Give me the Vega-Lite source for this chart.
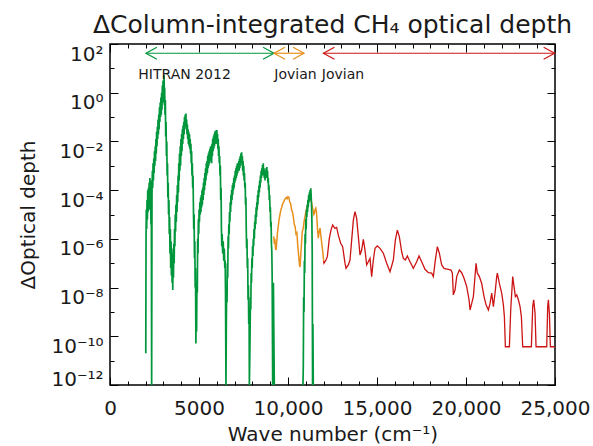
{
"$schema": "https://vega.github.io/schema/vega-lite/v6.json",
"width": 445, "height": 341,
"autosize": "none",
"padding": {"left": 110, "top": 44, "right": 38, "bottom": 61},
"background": "white",
"title": {"text": "ΔColumn-integrated CH₄ optical depth", "fontSize": 25, "font": "DejaVu Sans", "fontWeight": "normal", "color": "#1a1a1a", "offset": 6, "anchor": "middle", "frame": "group"},
"config": {
  "view": {"stroke": "#000", "strokeWidth": 1.5},
  "font": "DejaVu Sans",
  "axis": {"domain": false, "grid": false, "tickColor": "#000", "tickWidth": 1, "labelColor": "#1a1a1a", "titleColor": "#1a1a1a", "labelFontSize": 20, "titleFontSize": 20, "titleFontWeight": "normal", "labelFlush": false, "labelOverlap": false, "labelBound": false}
},
"resolve": {"axis": {"x": "independent", "y": "independent"}},
"datasets": {
"hitran": [
{"wn":2010,"log_tau":-10.7,"part":1},{"wn":2025,"log_tau":-6.0,"part":1},{"wn":2040,"log_tau":-4.8,"part":1},{"wn":2060,"log_tau":-5.6,"part":1},{"wn":2080,"log_tau":-4.4,"part":1},{"wn":2100,"log_tau":-5.2,"part":1},{"wn":2120,"log_tau":-4.0,"part":1},{"wn":2140,"log_tau":-4.9,"part":1},{"wn":2160,"log_tau":-3.9,"part":1},{"wn":2180,"log_tau":-4.6,"part":1},{"wn":2200,"log_tau":-3.7,"part":1},{"wn":2220,"log_tau":-4.8,"part":1},{"wn":2240,"log_tau":-3.5,"part":1},{"wn":2260,"log_tau":-4.3,"part":1},{"wn":2280,"log_tau":-3.6,"part":1},{"wn":2300,"log_tau":-5.4,"part":1},{"wn":2320,"log_tau":-3.8,"part":1},{"wn":2340,"log_tau":-12,"part":1},{"wn":2360,"log_tau":-4.2,"part":1},{"wn":2380,"log_tau":-3.2,"part":1},{"wn":2400,"log_tau":-3.9,"part":1},{"wn":2420,"log_tau":-2.9,"part":1},{"wn":2440,"log_tau":-3.6,"part":1},{"wn":2460,"log_tau":-2.7,"part":1},{"wn":2480,"log_tau":-3.3,"part":1},{"wn":2500,"log_tau":-2.4,"part":1},{"wn":2520,"log_tau":-3.0,"part":1},{"wn":2540,"log_tau":-2.2,"part":1},{"wn":2560,"log_tau":-2.8,"part":1},{"wn":2580,"log_tau":-1.9,"part":1},{"wn":2600,"log_tau":-2.5,"part":1},{"wn":2620,"log_tau":-1.6,"part":1},{"wn":2640,"log_tau":-2.2,"part":1},{"wn":2660,"log_tau":-1.4,"part":1},{"wn":2680,"log_tau":-1.9,"part":1},{"wn":2700,"log_tau":-1.1,"part":1},{"wn":2720,"log_tau":-1.7,"part":1},{"wn":2740,"log_tau":-0.9,"part":1},{"wn":2760,"log_tau":-1.5,"part":1},{"wn":2780,"log_tau":-0.6,"part":1},{"wn":2800,"log_tau":-1.2,"part":1},{"wn":2820,"log_tau":-0.4,"part":1},{"wn":2840,"log_tau":-1.0,"part":1},{"wn":2860,"log_tau":-0.2,"part":1},{"wn":2880,"log_tau":-0.9,"part":1},{"wn":2900,"log_tau":0.0,"part":1},{"wn":2920,"log_tau":-0.7,"part":1},{"wn":2940,"log_tau":0.3,"part":1},{"wn":2960,"log_tau":-0.4,"part":1},{"wn":2980,"log_tau":0.5,"part":1},{"wn":3000,"log_tau":-0.3,"part":1},{"wn":3020,"log_tau":0.2,"part":1},{"wn":3040,"log_tau":0.73,"part":1},{"wn":3055,"log_tau":-0.5,"part":1},{"wn":3070,"log_tau":0.2,"part":1},{"wn":3090,"log_tau":-0.9,"part":1},{"wn":3110,"log_tau":-0.3,"part":1},{"wn":3130,"log_tau":-1.8,"part":1},{"wn":3150,"log_tau":-1.2,"part":1},{"wn":3170,"log_tau":-2.6,"part":1},{"wn":3190,"log_tau":-2.0,"part":1},{"wn":3210,"log_tau":-3.4,"part":1},{"wn":3230,"log_tau":-2.9,"part":1},{"wn":3250,"log_tau":-4.3,"part":1},{"wn":3270,"log_tau":-3.7,"part":1},{"wn":3290,"log_tau":-5.0,"part":1},{"wn":3310,"log_tau":-4.4,"part":1},{"wn":3330,"log_tau":-5.8,"part":1},{"wn":3350,"log_tau":-5.1,"part":1},{"wn":3370,"log_tau":-6.6,"part":1},{"wn":3390,"log_tau":-5.6,"part":1},{"wn":3410,"log_tau":-7.2,"part":1},{"wn":3430,"log_tau":-6.1,"part":1},{"wn":3450,"log_tau":-7.5,"part":1},{"wn":3470,"log_tau":-6.4,"part":1},{"wn":3490,"log_tau":-7.8,"part":1},{"wn":3510,"log_tau":-6.6,"part":1},{"wn":3525,"log_tau":-8.1,"part":1},{"wn":3545,"log_tau":-6.8,"part":1},{"wn":3565,"log_tau":-7.6,"part":1},{"wn":3585,"log_tau":-6.2,"part":1},{"wn":3605,"log_tau":-7.0,"part":1},{"wn":3625,"log_tau":-5.6,"part":1},{"wn":3645,"log_tau":-6.3,"part":1},{"wn":3665,"log_tau":-5.0,"part":1},{"wn":3685,"log_tau":-5.7,"part":1},{"wn":3705,"log_tau":-4.6,"part":1},{"wn":3725,"log_tau":-5.3,"part":1},{"wn":3745,"log_tau":-4.2,"part":1},{"wn":3765,"log_tau":-4.9,"part":1},{"wn":3785,"log_tau":-3.8,"part":1},{"wn":3805,"log_tau":-4.5,"part":1},{"wn":3825,"log_tau":-3.4,"part":1},{"wn":3845,"log_tau":-4.1,"part":1},{"wn":3865,"log_tau":-2.9,"part":1},{"wn":3885,"log_tau":-3.6,"part":1},{"wn":3905,"log_tau":-2.5,"part":1},{"wn":3925,"log_tau":-3.2,"part":1},{"wn":3945,"log_tau":-2.2,"part":1},{"wn":3965,"log_tau":-3.0,"part":1},{"wn":3985,"log_tau":-1.9,"part":1},{"wn":4005,"log_tau":-2.6,"part":1},{"wn":4025,"log_tau":-1.7,"part":1},{"wn":4045,"log_tau":-2.4,"part":1},{"wn":4065,"log_tau":-1.5,"part":1},{"wn":4085,"log_tau":-2.1,"part":1},{"wn":4105,"log_tau":-1.35,"part":1},{"wn":4125,"log_tau":-1.9,"part":1},{"wn":4145,"log_tau":-1.2,"part":1},{"wn":4165,"log_tau":-1.7,"part":1},{"wn":4185,"log_tau":-1.0,"part":1},{"wn":4205,"log_tau":-1.5,"part":1},{"wn":4225,"log_tau":-0.9,"part":1},{"wn":4245,"log_tau":-1.3,"part":1},{"wn":4265,"log_tau":-0.85,"part":1},{"wn":4285,"log_tau":-1.4,"part":1},{"wn":4305,"log_tau":-1.1,"part":1},{"wn":4325,"log_tau":-1.7,"part":1},{"wn":4345,"log_tau":-1.3,"part":1},{"wn":4365,"log_tau":-1.9,"part":1},{"wn":4385,"log_tau":-1.5,"part":1},{"wn":4405,"log_tau":-2.1,"part":1},{"wn":4425,"log_tau":-1.6,"part":1},{"wn":4445,"log_tau":-2.2,"part":1},{"wn":4465,"log_tau":-1.7,"part":1},{"wn":4485,"log_tau":-2.3,"part":1},{"wn":4505,"log_tau":-1.9,"part":1},{"wn":4525,"log_tau":-2.5,"part":1},{"wn":4545,"log_tau":-2.1,"part":1},{"wn":4565,"log_tau":-2.9,"part":1},{"wn":4585,"log_tau":-2.4,"part":1},{"wn":4605,"log_tau":-3.4,"part":1},{"wn":4625,"log_tau":-2.9,"part":1},{"wn":4645,"log_tau":-3.9,"part":1},{"wn":4665,"log_tau":-3.4,"part":1},{"wn":4685,"log_tau":-4.6,"part":1},{"wn":4705,"log_tau":-5.6,"part":1},{"wn":4725,"log_tau":-5.0,"part":1},{"wn":4745,"log_tau":-6.8,"part":1},{"wn":4765,"log_tau":-6.1,"part":1},{"wn":4785,"log_tau":-8.0,"part":1},{"wn":4805,"log_tau":-7.2,"part":1},{"wn":4825,"log_tau":-10.3,"part":1},{"wn":4845,"log_tau":-8.6,"part":1},{"wn":4865,"log_tau":-9.8,"part":1},{"wn":4885,"log_tau":-7.8,"part":1},{"wn":4905,"log_tau":-8.2,"part":1},{"wn":4925,"log_tau":-6.0,"part":1},{"wn":4945,"log_tau":-6.6,"part":1},{"wn":4965,"log_tau":-5.2,"part":1},{"wn":4985,"log_tau":-5.8,"part":1},{"wn":5005,"log_tau":-4.8,"part":1},{"wn":5025,"log_tau":-5.3,"part":1},{"wn":5050,"log_tau":-4.5,"part":1},{"wn":5070,"log_tau":-5.0,"part":1},{"wn":5090,"log_tau":-4.3,"part":1},{"wn":5110,"log_tau":-4.9,"part":1},{"wn":5130,"log_tau":-4.2,"part":1},{"wn":5150,"log_tau":-4.7,"part":1},{"wn":5170,"log_tau":-4.0,"part":1},{"wn":5190,"log_tau":-4.6,"part":1},{"wn":5210,"log_tau":-3.9,"part":1},{"wn":5230,"log_tau":-4.4,"part":1},{"wn":5250,"log_tau":-3.7,"part":1},{"wn":5270,"log_tau":-4.2,"part":1},{"wn":5290,"log_tau":-3.5,"part":1},{"wn":5310,"log_tau":-4.0,"part":1},{"wn":5330,"log_tau":-3.3,"part":1},{"wn":5350,"log_tau":-3.8,"part":1},{"wn":5370,"log_tau":-3.1,"part":1},{"wn":5390,"log_tau":-3.6,"part":1},{"wn":5410,"log_tau":-2.9,"part":1},{"wn":5430,"log_tau":-3.4,"part":1},{"wn":5450,"log_tau":-2.8,"part":1},{"wn":5470,"log_tau":-3.3,"part":1},{"wn":5490,"log_tau":-2.6,"part":1},{"wn":5510,"log_tau":-3.1,"part":1},{"wn":5530,"log_tau":-2.5,"part":1},{"wn":5550,"log_tau":-3.0,"part":1},{"wn":5570,"log_tau":-2.4,"part":1},{"wn":5590,"log_tau":-2.9,"part":1},{"wn":5610,"log_tau":-2.3,"part":1},{"wn":5630,"log_tau":-2.7,"part":1},{"wn":5650,"log_tau":-2.2,"part":1},{"wn":5670,"log_tau":-2.8,"part":1},{"wn":5690,"log_tau":-2.3,"part":1},{"wn":5710,"log_tau":-2.9,"part":1},{"wn":5730,"log_tau":-2.1,"part":1},{"wn":5750,"log_tau":-2.6,"part":1},{"wn":5770,"log_tau":-1.9,"part":1},{"wn":5790,"log_tau":-2.4,"part":1},{"wn":5810,"log_tau":-1.8,"part":1},{"wn":5830,"log_tau":-2.3,"part":1},{"wn":5850,"log_tau":-1.7,"part":1},{"wn":5870,"log_tau":-2.2,"part":1},{"wn":5890,"log_tau":-1.6,"part":1},{"wn":5910,"log_tau":-2.0,"part":1},{"wn":5930,"log_tau":-1.55,"part":1},{"wn":5950,"log_tau":-2.1,"part":1},{"wn":5970,"log_tau":-1.6,"part":1},{"wn":5990,"log_tau":-1.9,"part":1},{"wn":6005,"log_tau":-1.53,"part":1},{"wn":6020,"log_tau":-2.0,"part":1},{"wn":6040,"log_tau":-1.7,"part":1},{"wn":6060,"log_tau":-2.3,"part":1},{"wn":6080,"log_tau":-1.9,"part":1},{"wn":6100,"log_tau":-2.6,"part":1},{"wn":6120,"log_tau":-2.2,"part":1},{"wn":6140,"log_tau":-2.9,"part":1},{"wn":6160,"log_tau":-2.6,"part":1},{"wn":6180,"log_tau":-3.4,"part":1},{"wn":6200,"log_tau":-3.0,"part":1},{"wn":6220,"log_tau":-4.4,"part":1},{"wn":6240,"log_tau":-3.9,"part":1},{"wn":6260,"log_tau":-5.6,"part":1},{"wn":6280,"log_tau":-6.3,"part":1},{"wn":6300,"log_tau":-5.8,"part":1},{"wn":6330,"log_tau":-6.6,"part":1},{"wn":6360,"log_tau":-6.1,"part":1},{"wn":6390,"log_tau":-6.9,"part":1},{"wn":6420,"log_tau":-6.4,"part":1},{"wn":6450,"log_tau":-7.2,"part":1},{"wn":6470,"log_tau":-6.9,"part":1},{"wn":6490,"log_tau":-8.2,"part":1},{"wn":6515,"log_tau":-12,"part":1},{"wn":6535,"log_tau":-9.5,"part":1},{"wn":6555,"log_tau":-8.0,"part":1},{"wn":6575,"log_tau":-8.6,"part":1},{"wn":6595,"log_tau":-7.0,"part":1},{"wn":6615,"log_tau":-7.6,"part":1},{"wn":6635,"log_tau":-5.9,"part":1},{"wn":6655,"log_tau":-6.4,"part":1},{"wn":6675,"log_tau":-5.4,"part":1},{"wn":6695,"log_tau":-5.8,"part":1},{"wn":6715,"log_tau":-4.9,"part":1},{"wn":6735,"log_tau":-5.3,"part":1},{"wn":6755,"log_tau":-4.5,"part":1},{"wn":6775,"log_tau":-4.9,"part":1},{"wn":6795,"log_tau":-4.2,"part":1},{"wn":6815,"log_tau":-4.6,"part":1},{"wn":6835,"log_tau":-4.0,"part":1},{"wn":6855,"log_tau":-4.4,"part":1},{"wn":6875,"log_tau":-3.8,"part":1},{"wn":6895,"log_tau":-4.2,"part":1},{"wn":6915,"log_tau":-3.7,"part":1},{"wn":6935,"log_tau":-4.0,"part":1},{"wn":6955,"log_tau":-3.5,"part":1},{"wn":6975,"log_tau":-3.9,"part":1},{"wn":6995,"log_tau":-3.4,"part":1},{"wn":7015,"log_tau":-3.7,"part":1},{"wn":7035,"log_tau":-3.2,"part":1},{"wn":7055,"log_tau":-3.6,"part":1},{"wn":7075,"log_tau":-3.1,"part":1},{"wn":7095,"log_tau":-3.5,"part":1},{"wn":7115,"log_tau":-3.0,"part":1},{"wn":7135,"log_tau":-3.4,"part":1},{"wn":7155,"log_tau":-2.9,"part":1},{"wn":7175,"log_tau":-3.3,"part":1},{"wn":7195,"log_tau":-2.9,"part":1},{"wn":7215,"log_tau":-3.2,"part":1},{"wn":7235,"log_tau":-2.8,"part":1},{"wn":7255,"log_tau":-3.2,"part":1},{"wn":7275,"log_tau":-2.7,"part":1},{"wn":7295,"log_tau":-3.1,"part":1},{"wn":7315,"log_tau":-2.6,"part":1},{"wn":7335,"log_tau":-3.0,"part":1},{"wn":7355,"log_tau":-2.5,"part":1},{"wn":7375,"log_tau":-2.9,"part":1},{"wn":7395,"log_tau":-2.45,"part":1},{"wn":7415,"log_tau":-2.9,"part":1},{"wn":7435,"log_tau":-2.6,"part":1},{"wn":7455,"log_tau":-3.2,"part":1},{"wn":7475,"log_tau":-2.8,"part":1},{"wn":7495,"log_tau":-3.4,"part":1},{"wn":7515,"log_tau":-3.0,"part":1},{"wn":7535,"log_tau":-3.6,"part":1},{"wn":7555,"log_tau":-3.3,"part":1},{"wn":7575,"log_tau":-3.9,"part":1},{"wn":7595,"log_tau":-3.7,"part":1},{"wn":7615,"log_tau":-4.6,"part":1},{"wn":7635,"log_tau":-4.3,"part":1},{"wn":7655,"log_tau":-5.6,"part":1},{"wn":7675,"log_tau":-6.4,"part":1},{"wn":7695,"log_tau":-6.0,"part":1},{"wn":7715,"log_tau":-7.2,"part":1},{"wn":7735,"log_tau":-6.8,"part":1},{"wn":7755,"log_tau":-8.5,"part":1},{"wn":7775,"log_tau":-7.9,"part":1},{"wn":7795,"log_tau":-9.5,"part":1},{"wn":7815,"log_tau":-9.0,"part":1},{"wn":7830,"log_tau":-12,"part":1},{"wn":7850,"log_tau":-11.0,"part":1},{"wn":7870,"log_tau":-9.87,"part":1},{"wn":7890,"log_tau":-8.4,"part":1},{"wn":7910,"log_tau":-8.9,"part":1},{"wn":7930,"log_tau":-7.4,"part":1},{"wn":7950,"log_tau":-7.8,"part":1},{"wn":7970,"log_tau":-6.8,"part":1},{"wn":7990,"log_tau":-7.2,"part":1},{"wn":8010,"log_tau":-6.3,"part":1},{"wn":8030,"log_tau":-6.7,"part":1},{"wn":8050,"log_tau":-6.0,"part":1},{"wn":8070,"log_tau":-6.3,"part":1},{"wn":8090,"log_tau":-5.6,"part":1},{"wn":8110,"log_tau":-6.0,"part":1},{"wn":8130,"log_tau":-5.3,"part":1},{"wn":8150,"log_tau":-5.6,"part":1},{"wn":8170,"log_tau":-5.0,"part":1},{"wn":8190,"log_tau":-5.4,"part":1},{"wn":8210,"log_tau":-4.7,"part":1},{"wn":8230,"log_tau":-5.1,"part":1},{"wn":8250,"log_tau":-4.5,"part":1},{"wn":8270,"log_tau":-4.8,"part":1},{"wn":8290,"log_tau":-4.2,"part":1},{"wn":8310,"log_tau":-4.6,"part":1},{"wn":8330,"log_tau":-4.0,"part":1},{"wn":8350,"log_tau":-4.3,"part":1},{"wn":8370,"log_tau":-3.8,"part":1},{"wn":8390,"log_tau":-4.1,"part":1},{"wn":8410,"log_tau":-3.6,"part":1},{"wn":8430,"log_tau":-3.9,"part":1},{"wn":8450,"log_tau":-3.4,"part":1},{"wn":8470,"log_tau":-3.7,"part":1},{"wn":8490,"log_tau":-3.2,"part":1},{"wn":8510,"log_tau":-3.5,"part":1},{"wn":8530,"log_tau":-3.1,"part":1},{"wn":8550,"log_tau":-3.4,"part":1},{"wn":8570,"log_tau":-2.97,"part":1},{"wn":8590,"log_tau":-3.3,"part":1},{"wn":8610,"log_tau":-2.9,"part":1},{"wn":8630,"log_tau":-3.4,"part":1},{"wn":8650,"log_tau":-3.1,"part":1},{"wn":8670,"log_tau":-3.5,"part":1},{"wn":8690,"log_tau":-3.2,"part":1},{"wn":8710,"log_tau":-3.6,"part":1},{"wn":8730,"log_tau":-3.2,"part":1},{"wn":8750,"log_tau":-3.5,"part":1},{"wn":8770,"log_tau":-3.1,"part":1},{"wn":8790,"log_tau":-3.5,"part":1},{"wn":8810,"log_tau":-3.05,"part":1},{"wn":8830,"log_tau":-3.4,"part":1},{"wn":8850,"log_tau":-3.2,"part":1},{"wn":8870,"log_tau":-3.7,"part":1},{"wn":8890,"log_tau":-3.5,"part":1},{"wn":8910,"log_tau":-4.0,"part":1},{"wn":8930,"log_tau":-3.8,"part":1},{"wn":8950,"log_tau":-4.4,"part":1},{"wn":8970,"log_tau":-4.2,"part":1},{"wn":8990,"log_tau":-4.9,"part":1},{"wn":9010,"log_tau":-4.7,"part":1},{"wn":9030,"log_tau":-5.5,"part":1},{"wn":9050,"log_tau":-5.3,"part":1},{"wn":9070,"log_tau":-6.2,"part":1},{"wn":9090,"log_tau":-6.5,"part":1},{"wn":9110,"log_tau":-7.5,"part":1},{"wn":9140,"log_tau":-12,"part":1},{"wn":9160,"log_tau":-9.0,"part":1},{"wn":9180,"log_tau":-7.8,"part":1},{"wn":9200,"log_tau":-9.5,"part":1},{"wn":9230,"log_tau":-12,"part":1},
{"wn":10840,"log_tau":-12,"part":2},{"wn":10860,"log_tau":-11.2,"part":2},{"wn":10880,"log_tau":-8.4,"part":2},{"wn":10900,"log_tau":-9.0,"part":2},{"wn":10920,"log_tau":-6.9,"part":2},{"wn":10940,"log_tau":-7.4,"part":2},{"wn":10960,"log_tau":-5.8,"part":2},{"wn":10980,"log_tau":-6.2,"part":2},{"wn":11000,"log_tau":-5.2,"part":2},{"wn":11020,"log_tau":-5.6,"part":2},{"wn":11040,"log_tau":-4.8,"part":2},{"wn":11060,"log_tau":-5.1,"part":2},{"wn":11080,"log_tau":-4.6,"part":2},{"wn":11100,"log_tau":-4.9,"part":2},{"wn":11120,"log_tau":-4.4,"part":2},{"wn":11140,"log_tau":-4.7,"part":2},{"wn":11160,"log_tau":-4.2,"part":2},{"wn":11180,"log_tau":-4.5,"part":2},{"wn":11200,"log_tau":-4.1,"part":2},{"wn":11220,"log_tau":-4.4,"part":2},{"wn":11240,"log_tau":-4.0,"part":2},{"wn":11260,"log_tau":-4.3,"part":2},{"wn":11280,"log_tau":-3.92,"part":2},{"wn":11300,"log_tau":-4.2,"part":2},{"wn":11320,"log_tau":-4.6,"part":2},{"wn":11340,"log_tau":-5.1,"part":2},{"wn":11360,"log_tau":-6.5,"part":2},{"wn":11380,"log_tau":-12,"part":2},{"wn":11400,"log_tau":-9.5,"part":2},{"wn":11420,"log_tau":-12,"part":2}
],
"jovian_a": [
{"wn":9200,"log_tau":-5.9},{"wn":9230,"log_tau":-6.2},{"wn":9260,"log_tau":-6.0},{"wn":9300,"log_tau":-6.4},{"wn":9330,"log_tau":-6.46},{"wn":9360,"log_tau":-6.2},{"wn":9400,"log_tau":-5.8},{"wn":9450,"log_tau":-5.5},{"wn":9500,"log_tau":-5.2},{"wn":9550,"log_tau":-5.0},{"wn":9600,"log_tau":-4.8},{"wn":9650,"log_tau":-4.7},{"wn":9700,"log_tau":-4.55},{"wn":9750,"log_tau":-4.5},{"wn":9800,"log_tau":-4.4},{"wn":9850,"log_tau":-4.35},{"wn":9900,"log_tau":-4.3},{"wn":9950,"log_tau":-4.35},{"wn":10000,"log_tau":-4.27},{"wn":10050,"log_tau":-4.3},{"wn":10100,"log_tau":-4.5},{"wn":10150,"log_tau":-4.55},{"wn":10200,"log_tau":-4.8},{"wn":10250,"log_tau":-4.9},{"wn":10300,"log_tau":-5.1},{"wn":10350,"log_tau":-5.4},{"wn":10400,"log_tau":-5.5},{"wn":10450,"log_tau":-5.8},{"wn":10500,"log_tau":-5.75},{"wn":10550,"log_tau":-6.3},{"wn":10600,"log_tau":-6.7},{"wn":10650,"log_tau":-7.1},{"wn":10680,"log_tau":-7.15},{"wn":10720,"log_tau":-6.6},{"wn":10760,"log_tau":-6.2},{"wn":10800,"log_tau":-5.7},{"wn":10850,"log_tau":-5.6},{"wn":10900,"log_tau":-5.3},{"wn":11000,"log_tau":-4.9},{"wn":11100,"log_tau":-4.6},{"wn":11200,"log_tau":-4.4},{"wn":11300,"log_tau":-4.4},{"wn":11400,"log_tau":-4.8},{"wn":11450,"log_tau":-5.0},{"wn":11480,"log_tau":-4.95},{"wn":11520,"log_tau":-4.8},{"wn":11560,"log_tau":-4.74},{"wn":11600,"log_tau":-4.9},{"wn":11650,"log_tau":-5.5},{"wn":11700,"log_tau":-5.97},{"wn":11750,"log_tau":-5.7},{"wn":11800,"log_tau":-5.56},{"wn":11850,"log_tau":-5.9},{"wn":11900,"log_tau":-6.2},{"wn":11950,"log_tau":-6.5},{"wn":12000,"log_tau":-6.9}
],
"jovian_b": [
{"wn":12000,"log_tau":-6.9},{"wn":12022,"log_tau":-7.0},{"wn":12134,"log_tau":-6.87},{"wn":12209,"log_tau":-6.73},{"wn":12322,"log_tau":-5.98},{"wn":12415,"log_tau":-5.64},{"wn":12509,"log_tau":-5.43},{"wn":12640,"log_tau":-5.57},{"wn":12734,"log_tau":-5.53},{"wn":12827,"log_tau":-5.85},{"wn":12959,"log_tau":-6.18},{"wn":13071,"log_tau":-6.32},{"wn":13202,"log_tau":-7.0},{"wn":13259,"log_tau":-7.21},{"wn":13390,"log_tau":-7.07},{"wn":13483,"log_tau":-6.87},{"wn":13577,"log_tau":-6.05},{"wn":13671,"log_tau":-5.23},{"wn":13764,"log_tau":-4.88},{"wn":13858,"log_tau":-5.16},{"wn":13952,"log_tau":-5.91},{"wn":14045,"log_tau":-6.66},{"wn":14139,"log_tau":-6.46},{"wn":14232,"log_tau":-6.02},{"wn":14326,"log_tau":-6.46},{"wn":14419,"log_tau":-7.07},{"wn":14513,"log_tau":-6.94},{"wn":14607,"log_tau":-6.8},{"wn":14700,"log_tau":-7.55},{"wn":14794,"log_tau":-6.87},{"wn":14888,"log_tau":-6.39},{"wn":15019,"log_tau":-6.29},{"wn":15169,"log_tau":-6.39},{"wn":15356,"log_tau":-6.59},{"wn":15543,"log_tau":-7.0},{"wn":15731,"log_tau":-7.35},{"wn":15918,"log_tau":-6.87},{"wn":16030,"log_tau":-6.05},{"wn":16143,"log_tau":-5.64},{"wn":16255,"log_tau":-5.91},{"wn":16386,"log_tau":-6.53},{"wn":16480,"log_tau":-6.8},{"wn":16592,"log_tau":-6.87},{"wn":16705,"log_tau":-6.7},{"wn":16855,"log_tau":-6.94},{"wn":17042,"log_tau":-7.21},{"wn":17229,"log_tau":-6.94},{"wn":17360,"log_tau":-6.7},{"wn":17510,"log_tau":-6.94},{"wn":17697,"log_tau":-7.25},{"wn":17884,"log_tau":-7.39},{"wn":18072,"log_tau":-7.41},{"wn":18166,"log_tau":-7.55},{"wn":18278,"log_tau":-6.87},{"wn":18391,"log_tau":-6.32},{"wn":18503,"log_tau":-6.59},{"wn":18634,"log_tau":-7.07},{"wn":18766,"log_tau":-7.21},{"wn":19009,"log_tau":-7.25},{"wn":19159,"log_tau":-7.28},{"wn":19234,"log_tau":-7.41},{"wn":19290,"log_tau":-8.3},{"wn":19384,"log_tau":-8.1},{"wn":19478,"log_tau":-7.55},{"wn":19627,"log_tau":-7.28},{"wn":19758,"log_tau":-7.39},{"wn":19890,"log_tau":-7.62},{"wn":20040,"log_tau":-7.96},{"wn":20171,"log_tau":-8.5},{"wn":20227,"log_tau":-8.92},{"wn":20321,"log_tau":-8.65},{"wn":20414,"log_tau":-8.37},{"wn":20489,"log_tau":-7.69},{"wn":20564,"log_tau":-7.0},{"wn":20639,"log_tau":-7.41},{"wn":20751,"log_tau":-7.55},{"wn":20882,"log_tau":-7.83},{"wn":21013,"log_tau":-8.37},{"wn":21126,"log_tau":-8.71},{"wn":21257,"log_tau":-8.92},{"wn":21350,"log_tau":-8.65},{"wn":21444,"log_tau":-8.23},{"wn":21538,"log_tau":-8.78},{"wn":21631,"log_tau":-8.23},{"wn":21725,"log_tau":-7.55},{"wn":21762,"log_tau":-7.41},{"wn":21875,"log_tau":-7.83},{"wn":22006,"log_tau":-8.23},{"wn":22100,"log_tau":-8.71},{"wn":22156,"log_tau":-9.19},{"wn":22212,"log_tau":-10.43},{"wn":22437,"log_tau":-10.43},{"wn":22512,"log_tau":-8.92},{"wn":22624,"log_tau":-7.55},{"wn":22699,"log_tau":-7.96},{"wn":22774,"log_tau":-8.37},{"wn":22849,"log_tau":-8.3},{"wn":22942,"log_tau":-8.5},{"wn":23036,"log_tau":-8.78},{"wn":23111,"log_tau":-9.19},{"wn":23186,"log_tau":-10.43},{"wn":23673,"log_tau":-10.43},{"wn":23748,"log_tau":-8.78},{"wn":23804,"log_tau":-8.5},{"wn":23879,"log_tau":-9.05},{"wn":23935,"log_tau":-10.43},{"wn":24534,"log_tau":-10.43},{"wn":24590,"log_tau":-8.78},{"wn":24628,"log_tau":-8.5},{"wn":24684,"log_tau":-9.05},{"wn":24740,"log_tau":-10.43},{"wn":25000,"log_tau":-10.43}
],
"ranges": [
{"range":"HITRAN 2012","start":2020,"end":9215},
{"range":"Jovian a","start":9215,"end":10900},
{"range":"Jovian b","start":11990,"end":24980}
],
"heads": [
{"range":"HITRAN 2012","wn":2020,"dir":"left"},{"range":"HITRAN 2012","wn":9215,"dir":"right"},
{"range":"Jovian a","wn":9215,"dir":"left"},{"range":"Jovian a","wn":10900,"dir":"right"},
{"range":"Jovian b","wn":11990,"dir":"left"},{"range":"Jovian b","wn":24980,"dir":"right"}
],
"labels": [
{"label":"HITRAN 2012","wn":1590},{"label":"Jovian","wn":9230},{"label":"Jovian","wn":11900}
]
},
"layer": [
{
 "data": {"name": "jovian_a"},
 "mark": {"type": "line", "color": "#E8901C", "strokeWidth": 1.5, "clip": true},
 "encoding": {
  "x": {"field": "wn", "type": "quantitative", "scale": {"domain": [0, 25000], "nice": false, "zero": false},
        "axis": {"orient": "bottom", "values": [0, 5000, 10000, 15000, 20000, 25000], "tickSize": -8, "labelPadding": 21, "labelExpr": "datum.value >= 10000 ? format(datum.value, ',') : format(datum.value, 'd')", "title": "Wave number (cm⁻¹)", "titlePadding": 6}},
  "y": {"field": "log_tau", "type": "quantitative", "scale": {"domain": [-12, 2], "nice": false, "zero": false},
        "axis": {"orient": "left", "values": [2, 0, -2, -4, -6, -8, -10, -12], "tickSize": -8, "labelPadding": 15, "labelBaseline": {"condition": {"test": "datum.value == -12", "value": "alphabetic"}, "value": "top"}, "labelOffset": 0, "labelExpr": "datum.value == 2 ? '10²' : datum.value == 0 ? '10⁰' : datum.value == -2 ? '10⁻²' : datum.value == -4 ? '10⁻⁴' : datum.value == -6 ? '10⁻⁶' : datum.value == -8 ? '10⁻⁸' : datum.value == -10 ? '10⁻¹⁰' : '10⁻¹²'", "title": "ΔOptical depth", "titlePadding": 12}}
 }
},
{
 "data": {"name": "hitran"},
 "mark": {"type": "line", "color": "#00963C", "strokeWidth": 1.7, "clip": true},
 "encoding": {
  "x": {"field": "wn", "type": "quantitative", "scale": {"domain": [0, 25000], "nice": false, "zero": false},
        "axis": {"orient": "bottom", "values": [1000,2000,3000,4000,6000,7000,8000,9000,11000,12000,13000,14000,16000,17000,18000,19000,21000,22000,23000,24000], "tickSize": -4, "labels": false, "title": null}},
  "y": {"field": "log_tau", "type": "quantitative", "scale": {"domain": [-12, 2], "nice": false, "zero": false},
        "axis": {"orient": "left", "values": [1, -1, -3, -5, -7, -9, -11], "tickSize": -4, "labels": false, "title": null}},
  "detail": {"field": "part", "type": "nominal"}
 }
},
{
 "data": {"name": "jovian_b"},
 "mark": {"type": "line", "color": "#CC1414", "strokeWidth": 1.3, "clip": true},
 "encoding": {
  "x": {"field": "wn", "type": "quantitative", "scale": {"domain": [0, 25000], "nice": false, "zero": false},
        "axis": {"orient": "top", "values": [0, 5000, 10000, 15000, 20000, 25000], "tickSize": -8, "labels": false, "title": null}},
  "y": {"field": "log_tau", "type": "quantitative", "scale": {"domain": [-12, 2], "nice": false, "zero": false},
        "axis": {"orient": "right", "values": [2, 0, -2, -4, -6, -8, -10, -12], "tickSize": -8, "labels": false, "title": null}}
 }
},
{
 "data": {"name": "ranges"},
 "mark": {"type": "rule", "strokeWidth": 1.2},
 "encoding": {
  "x": {"field": "start", "type": "quantitative", "scale": {"domain": [0, 25000], "nice": false, "zero": false},
        "axis": {"orient": "top", "values": [1000,2000,3000,4000,6000,7000,8000,9000,11000,12000,13000,14000,16000,17000,18000,19000,21000,22000,23000,24000], "tickSize": -4, "labels": false, "title": null}},
  "x2": {"field": "end"},
  "y": {"datum": 1.62, "type": "quantitative", "scale": {"domain": [-12, 2], "nice": false, "zero": false},
        "axis": {"orient": "right", "values": [1, -1, -3, -5, -7, -9, -11], "tickSize": -4, "labels": false, "title": null}},
  "color": {"field": "range", "type": "nominal", "scale": {"domain": ["HITRAN 2012", "Jovian a", "Jovian b"], "range": ["#00963C", "#E8901C", "#CC1414"]}, "legend": null}
 }
},
{
 "data": {"name": "heads"},
 "mark": {"type": "point", "filled": false, "size": 484, "strokeWidth": 1.2, "opacity": 1},
 "encoding": {
  "x": {"field": "wn", "type": "quantitative", "scale": {"domain": [0, 25000], "nice": false, "zero": false}, "axis": null},
  "y": {"datum": 1.62, "type": "quantitative", "scale": {"domain": [-12, 2], "nice": false, "zero": false}, "axis": null},
  "shape": {"field": "dir", "type": "nominal", "scale": {"domain": ["left", "right"], "range": ["M1,-0.55L0,0L1,0.55", "M-1,-0.55L0,0L-1,0.55"]}, "legend": null},
  "color": {"field": "range", "type": "nominal", "scale": {"domain": ["HITRAN 2012", "Jovian a", "Jovian b"], "range": ["#00963C", "#E8901C", "#CC1414"]}, "legend": null}
 }
},
{
 "data": {"name": "labels"},
 "mark": {"type": "text", "align": "left", "baseline": "middle", "fontSize": 14, "font": "DejaVu Sans", "color": "#1a1a1a"},
 "encoding": {
  "x": {"field": "wn", "type": "quantitative", "scale": {"domain": [0, 25000], "nice": false, "zero": false}, "axis": null},
  "y": {"datum": 0.73, "type": "quantitative", "scale": {"domain": [-12, 2], "nice": false, "zero": false}, "axis": null},
  "text": {"field": "label"}
 }
}
]
}
